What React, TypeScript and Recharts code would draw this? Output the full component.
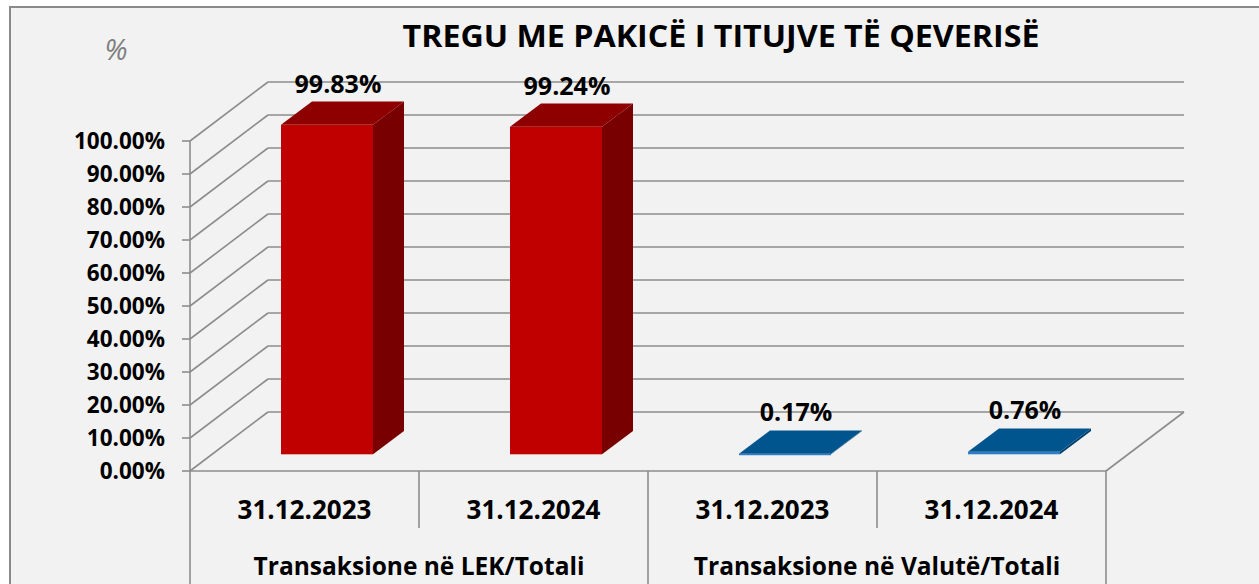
import React from 'react';
import { BarChart, Bar, XAxis, YAxis, CartesianGrid, LabelList } from 'recharts';

// ---------- data ----------
const dates = ['31.12.2023', '31.12.2024', '31.12.2023', '31.12.2024'];
const groups = [
  'Transaksione në LEK/Totali',
  'Transaksione në LEK/Totali',
  'Transaksione në Valutë/Totali',
  'Transaksione në Valutë/Totali',
];
const shares = [99.83, 99.24, 0.17, 0.76];
const yTicks = [0, 10, 20, 30, 40, 50, 60, 70, 80, 90, 100];
const title = 'TREGU ME PAKICË I TITUJVE TË QEVERISË';
const unitLabel = '%';

const data = dates.map((d, i) => ({ date: d, group: groups[i], value: shares[i] }));

// ---------- layout / style ----------
const W = 1259;
const H = 584;
const PLOT_LEFT = 190;
const PLOT_RIGHT = 1106;
const PLOT_TOP = 141;
const PLOT_BOTTOM = 471;
const WALL_DX = 78;
const WALL_DY = -59;
const BAR_OX = 22.3;
const BAR_OY = -16.7;
const BAR_DX = 31;
const BAR_DY = -23.3;
const GRID = '#8c8c8c';
const FONT = "'Open Sans', 'DejaVu Sans', sans-serif";

const palettes: Record<string, { front: string; top: string; side: string }> = {
  'Transaksione në LEK/Totali': { front: '#C00000', top: '#8E0000', side: '#780000' },
  'Transaksione në Valutë/Totali': { front: '#2F7DC4', top: '#00558F', side: '#003F6B' },
};

const Box3D = (p: any) => {
  const { x, y, width, height, payload } = p;
  if (x == null || y == null) return null;
  const pal = palettes[payload?.group] || palettes[groups[0]];
  const fx = x + BAR_OX;
  const fy = y + BAR_OY;
  const h = Math.max(height, 0);
  const top = `${fx},${fy} ${fx + width},${fy} ${fx + width + BAR_DX},${fy + BAR_DY} ${fx + BAR_DX},${fy + BAR_DY}`;
  const side = `${fx + width},${fy} ${fx + width + BAR_DX},${fy + BAR_DY} ${fx + width + BAR_DX},${fy + h + BAR_DY} ${fx + width},${fy + h}`;
  return (
    <g>
      <rect x={fx} y={fy} width={width} height={Math.max(h, 1.5)} fill={pal.front} />
      <polygon points={side} fill={pal.side} />
      <polygon points={top} fill={pal.top} />
    </g>
  );
};

const ValueLabel = (p: any) => {
  const vb = p.viewBox || {};
  const x = p.x ?? vb.x;
  const y = p.y ?? vb.y;
  const width = p.width ?? vb.width;
  if (x == null || y == null) return null;
  const v = Number(p.value);
  return (
    <text
      x={x + width / 2 + BAR_OX + 11}
      y={y + BAR_OY + BAR_DY - 9}
      textAnchor="middle"
      fill="#000"
      fontFamily={FONT}
      fontWeight={700}
      fontSize={25}
    >
      {v.toFixed(2) + '%'}
    </text>
  );
};

const renderGridLine = (p: any) => {
  const { x1, y1, x2, y2, key } = p;
  const bottom = p.y != null && p.height != null ? p.y + p.height : PLOT_BOTTOM;
  const isFloor = Math.abs(y1 - bottom) < 0.5;
  const s = { stroke: GRID, strokeWidth: 1.6 };
  return (
    <g key={key}>
      <line x1={x1} y1={y1} x2={x1 + WALL_DX} y2={y1 + WALL_DY} {...s} />
      <line x1={x1 + WALL_DX} y1={y1 + WALL_DY} x2={x2 + WALL_DX} y2={y2 + WALL_DY} {...s} />
      {isFloor && <line x1={x2} y1={y2} x2={x2 + WALL_DX} y2={y2 + WALL_DY} {...s} />}
    </g>
  );
};

const XTick = (p: any) => {
  const { x, y, payload } = p;
  const i: number = p.index ?? payload?.index ?? 0;
  const half = (PLOT_RIGHT - PLOT_LEFT) / dates.length / 2;
  const g = groups[i];
  const isGroupEnd = i === dates.length - 1 || groups[i + 1] !== g;
  const isGroupStart = i === 0 || groups[i - 1] !== g;
  const n = groups.filter((v) => v === g).length;
  const s = { stroke: GRID, strokeWidth: 1.6 };
  return (
    <g>
      {i === 0 && <line x1={x - half} y1={y} x2={x - half} y2={H} {...s} />}
      <line x1={x + half} y1={y} x2={x + half} y2={isGroupEnd ? H : y + 57} {...s} />
      <text x={x} y={y + 48} textAnchor="middle" fill="#000" fontFamily={FONT} fontWeight={700} fontSize={26}>
        {payload?.value ?? dates[i]}
      </text>
      {isGroupStart && (
        <text
          x={x - half + n * half}
          y={y + 104}
          textAnchor="middle"
          fill="#000"
          fontFamily={FONT}
          fontWeight={700}
          fontSize={24.5}
        >
          {g}
        </text>
      )}
    </g>
  );
};

export default function App() {
  return (
    <div style={{ position: 'absolute', left: 0, top: 0, width: W, height: H, background: '#fff', overflow: 'hidden' }}>
      <div
        style={{
          position: 'absolute',
          left: 9,
          top: 6,
          width: W - 9,
          height: H - 6,
          boxSizing: 'border-box',
          borderLeft: '2px solid #8a8a8a',
          borderTop: '2px solid #8a8a8a',
          background: '#F2F2F2',
        }}
      />
      <div style={{ position: 'absolute', left: 0, top: 0 }}>
        <BarChart
          width={W}
          height={H}
          data={data}
          margin={{ top: PLOT_TOP, right: W - PLOT_RIGHT, bottom: 0, left: 0 }}
          barCategoryGap="30%"
        >
          <CartesianGrid vertical={false} horizontal={renderGridLine} stroke={GRID} />
          <XAxis
            dataKey="date"
            interval={0}
            height={H - PLOT_BOTTOM}
            tickSize={0}
            tickMargin={0}
            tickLine={false}
            axisLine={{ stroke: GRID, strokeWidth: 1.6 }}
            tick={(p: any) => <XTick {...p} />}
          />
          <YAxis
            type="number"
            domain={[0, 100]}
            ticks={yTicks}
            interval={0}
            width={PLOT_LEFT}
            tickSize={8}
            tickMargin={17}
            tickFormatter={(v: number) => v.toFixed(2) + '%'}
            tick={{ fill: '#000', fontSize: 22.5, fontWeight: 700, fontFamily: FONT }}
            axisLine={{ stroke: GRID, strokeWidth: 1.6 }}
            tickLine={{ stroke: GRID, strokeWidth: 1.6 }}
          />
          <Bar dataKey="value" isAnimationActive={false} shape={(p: any) => <Box3D {...p} />}>
            <LabelList dataKey="value" content={(p: any) => <ValueLabel {...p} />} />
          </Bar>
        </BarChart>
      </div>
      <svg width={W} height={H} style={{ position: 'absolute', left: 0, top: 0, pointerEvents: 'none' }}>
        <text
          x={721}
          y={47}
          textAnchor="middle"
          fill="#000"
          fontFamily={FONT}
          fontWeight={700}
          fontSize={30}
          textLength={637}
          lengthAdjust="spacingAndGlyphs"
        >
          {title}
        </text>
        <text x={116} y={60} textAnchor="middle" fill="#7f7f7f" fontFamily={FONT} fontStyle="italic" fontSize={29}>
          {unitLabel}
        </text>
      </svg>
    </div>
  );
}
